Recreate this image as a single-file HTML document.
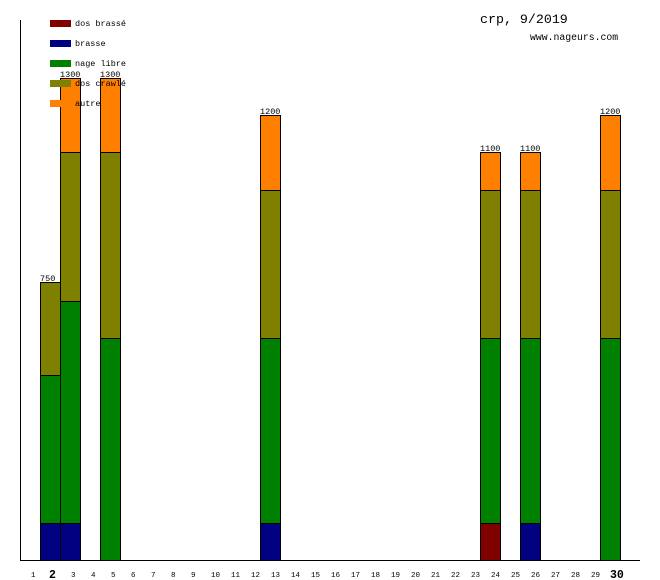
<!DOCTYPE html>
<html>
<head>
<meta charset="utf-8">
<style>
  html,body{margin:0;padding:0;background:#fff;}
  svg{display:block;}
  text{font-family:"Liberation Mono","DejaVu Sans Mono",monospace;fill:#000;}
</style>
</head>
<body>
<svg width="660" height="580" viewBox="0 0 660 580" xmlns="http://www.w3.org/2000/svg" shape-rendering="crispEdges">
  <rect x="0" y="0" width="660" height="580" fill="#fff"/>

  <!-- axes -->
  <line x1="20.5" y1="20" x2="20.5" y2="560" stroke="#000" stroke-width="1"/>
  <line x1="20" y1="560.5" x2="640" y2="560.5" stroke="#000" stroke-width="1"/>

  <g stroke="#000" stroke-width="1">
    <!-- day 2 -->
    <rect x="40.5" y="523.5" width="20" height="37" fill="#000080"/>
    <rect x="40.5" y="375.5" width="20" height="148" fill="#008000"/>
    <rect x="40.5" y="282.5" width="20" height="93" fill="#808000"/>
    <!-- day 3 -->
    <rect x="60.5" y="523.5" width="20" height="37" fill="#000080"/>
    <rect x="60.5" y="301.5" width="20" height="222" fill="#008000"/>
    <rect x="60.5" y="152.5" width="20" height="149" fill="#808000"/>
    <rect x="60.5" y="78.5" width="20" height="74" fill="#ff8000"/>
    <!-- day 5 -->
    <rect x="100.5" y="338.5" width="20" height="222" fill="#008000"/>
    <rect x="100.5" y="152.5" width="20" height="186" fill="#808000"/>
    <rect x="100.5" y="78.5" width="20" height="74" fill="#ff8000"/>
    <!-- day 13 -->
    <rect x="260.5" y="523.5" width="20" height="37" fill="#000080"/>
    <rect x="260.5" y="338.5" width="20" height="185" fill="#008000"/>
    <rect x="260.5" y="190.5" width="20" height="148" fill="#808000"/>
    <rect x="260.5" y="115.5" width="20" height="75" fill="#ff8000"/>
    <!-- day 24 -->
    <rect x="480.5" y="523.5" width="20" height="37" fill="#800000"/>
    <rect x="480.5" y="338.5" width="20" height="185" fill="#008000"/>
    <rect x="480.5" y="190.5" width="20" height="148" fill="#808000"/>
    <rect x="480.5" y="152.5" width="20" height="38" fill="#ff8000"/>
    <!-- day 26 -->
    <rect x="520.5" y="523.5" width="20" height="37" fill="#000080"/>
    <rect x="520.5" y="338.5" width="20" height="185" fill="#008000"/>
    <rect x="520.5" y="190.5" width="20" height="148" fill="#808000"/>
    <rect x="520.5" y="152.5" width="20" height="38" fill="#ff8000"/>
    <!-- day 30 -->
    <rect x="600.5" y="338.5" width="20" height="222" fill="#008000"/>
    <rect x="600.5" y="190.5" width="20" height="148" fill="#808000"/>
    <rect x="600.5" y="115.5" width="20" height="75" fill="#ff8000"/>
  </g>

  <!-- value labels -->
  <g font-size="8.5">
    <text x="40" y="281">750</text>
    <text x="60" y="77">1300</text>
    <text x="100" y="77">1300</text>
    <text x="260" y="114">1200</text>
    <text x="480" y="151">1100</text>
    <text x="520" y="151">1100</text>
    <text x="600" y="114">1200</text>
  </g>

  <!-- legend -->
  <rect x="50" y="20" width="21" height="7" fill="#800000"/>
  <rect x="50" y="40" width="21" height="7" fill="#000080"/>
  <rect x="50" y="60" width="21" height="7" fill="#008000"/>
  <rect x="50" y="80" width="21" height="7" fill="#808000"/>
  <rect x="50" y="100" width="21" height="7" fill="#ff8000"/>
  <g font-size="8.5">
    <text x="75" y="26">dos brassé</text>
    <text x="75" y="46">brasse</text>
    <text x="75" y="66">nage libre</text>
    <text x="75" y="86">dos crawlé</text>
    <text x="75" y="106">autre</text>
  </g>

  <!-- title -->
  <text x="480" y="23" font-size="13.3">crp, 9/2019</text>
  <text x="530" y="40" font-size="9.8">www.nageurs.com</text>

  <!-- x labels -->
  <g font-size="7.5">
    <text x="31" y="577">1</text>
    <text x="71" y="577">3</text>
    <text x="91" y="577">4</text>
    <text x="111" y="577">5</text>
    <text x="131" y="577">6</text>
    <text x="151" y="577">7</text>
    <text x="171" y="577">8</text>
    <text x="191" y="577">9</text>
    <text x="211" y="577">10</text>
    <text x="231" y="577">11</text>
    <text x="251" y="577">12</text>
    <text x="271" y="577">13</text>
    <text x="291" y="577">14</text>
    <text x="311" y="577">15</text>
    <text x="331" y="577">16</text>
    <text x="351" y="577">17</text>
    <text x="371" y="577">18</text>
    <text x="391" y="577">19</text>
    <text x="411" y="577">20</text>
    <text x="431" y="577">21</text>
    <text x="451" y="577">22</text>
    <text x="471" y="577">23</text>
    <text x="491" y="577">24</text>
    <text x="511" y="577">25</text>
    <text x="531" y="577">26</text>
    <text x="551" y="577">27</text>
    <text x="571" y="577">28</text>
    <text x="591" y="577">29</text>
  </g>
  <g font-size="11.5" font-weight="bold">
    <text x="49" y="578">2</text>
    <text x="610" y="578">30</text>
  </g>
</svg>
</body>
</html>
